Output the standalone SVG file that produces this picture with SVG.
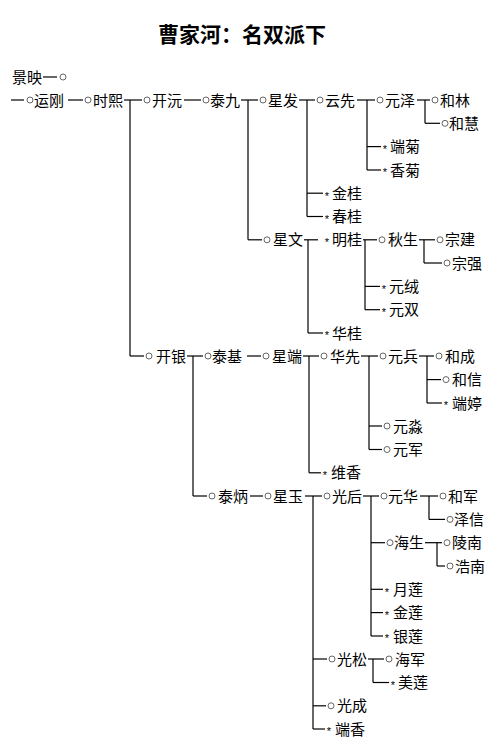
<svg xmlns="http://www.w3.org/2000/svg" width="496" height="751" viewBox="0 0 496 751">
<style>
.t{font-family:"Noto Sans CJK SC","Noto Sans",sans-serif;font-size:15px;fill:#000}
.h{font-family:"Noto Sans CJK SC",sans-serif;font-size:21px;font-weight:bold;fill:#000}
.s{font-family:"Liberation Sans",sans-serif;font-size:11px;fill:#000;text-anchor:middle}
.c{fill:#fff;stroke:#666;stroke-width:1}
.ln line{stroke:#000;stroke-width:1.2}
</style>
<rect width="496" height="751" fill="#fff"/>
<text class="h" x="242" y="42" text-anchor="middle">曹家河：名双派下</text>

<g class="ln" id="connectors">
<line x1="43" y1="77" x2="57" y2="77"/>
<line x1="11" y1="100" x2="24" y2="100"/>
<line x1="68" y1="100" x2="83" y2="100"/>
<line x1="124" y1="100" x2="142" y2="100"/>
<line x1="184" y1="100" x2="201" y2="100"/>
<line x1="241" y1="100" x2="258" y2="100"/>
<line x1="299" y1="100" x2="315" y2="100"/>
<line x1="357" y1="100" x2="375" y2="100"/>
<line x1="417" y1="100" x2="430" y2="100"/>
<line x1="130" y1="100" x2="130" y2="356"/>
<line x1="248" y1="100" x2="248" y2="239.8"/>
<line x1="307" y1="100" x2="307" y2="216.5"/>
<line x1="367" y1="100" x2="367" y2="170"/>
<line x1="425" y1="100" x2="425" y2="123.3"/>
<line x1="425" y1="123.3" x2="440" y2="123.3"/>
<line x1="367" y1="146.6" x2="381" y2="146.6"/>
<line x1="367" y1="170" x2="381" y2="170"/>
<line x1="307" y1="193.2" x2="323" y2="193.2"/>
<line x1="307" y1="216.5" x2="323" y2="216.5"/>
<line x1="248" y1="239.8" x2="262" y2="239.8"/>
<line x1="304" y1="239.8" x2="318" y2="239.8"/>
<line x1="308" y1="239.8" x2="308" y2="333"/>
<line x1="363" y1="239.8" x2="377" y2="239.8"/>
<line x1="365" y1="239.8" x2="365" y2="309.7"/>
<line x1="419" y1="239.8" x2="435" y2="239.8"/>
<line x1="424" y1="239.8" x2="424" y2="263"/>
<line x1="424" y1="263" x2="442" y2="263"/>
<line x1="365" y1="286.4" x2="380" y2="286.4"/>
<line x1="365" y1="309.7" x2="380" y2="309.7"/>
<line x1="308" y1="333" x2="323" y2="333"/>
<line x1="130" y1="356" x2="144" y2="356"/>
<line x1="187" y1="356" x2="203" y2="356"/>
<line x1="193" y1="356" x2="193" y2="496"/>
<line x1="247" y1="356" x2="261" y2="356"/>
<line x1="303" y1="356" x2="319" y2="356"/>
<line x1="309" y1="356" x2="309" y2="472.8"/>
<line x1="361" y1="356" x2="378" y2="356"/>
<line x1="369" y1="356" x2="369" y2="449.5"/>
<line x1="419" y1="356" x2="434" y2="356"/>
<line x1="427" y1="356" x2="427" y2="403"/>
<line x1="427" y1="379.6" x2="441" y2="379.6"/>
<line x1="427" y1="403" x2="442" y2="403"/>
<line x1="369" y1="426" x2="382" y2="426"/>
<line x1="369" y1="449.5" x2="382" y2="449.5"/>
<line x1="309" y1="472.8" x2="321" y2="472.8"/>
<line x1="193" y1="496" x2="207" y2="496"/>
<line x1="250" y1="496" x2="263" y2="496"/>
<line x1="305" y1="496" x2="322" y2="496"/>
<line x1="313" y1="496" x2="313" y2="729"/>
<line x1="363" y1="496" x2="379" y2="496"/>
<line x1="371" y1="496" x2="371" y2="636"/>
<line x1="420" y1="496" x2="438" y2="496"/>
<line x1="429" y1="496" x2="429" y2="519.4"/>
<line x1="429" y1="519.4" x2="445" y2="519.4"/>
<line x1="371" y1="542.7" x2="385" y2="542.7"/>
<line x1="425" y1="542.7" x2="442" y2="542.7"/>
<line x1="437" y1="542.7" x2="437" y2="566"/>
<line x1="437" y1="566" x2="445" y2="566"/>
<line x1="371" y1="589.3" x2="383" y2="589.3"/>
<line x1="371" y1="612.6" x2="383" y2="612.6"/>
<line x1="371" y1="636" x2="383" y2="636"/>
<line x1="313" y1="659" x2="327" y2="659"/>
<line x1="368" y1="659" x2="384" y2="659"/>
<line x1="373" y1="659" x2="373" y2="682.5"/>
<line x1="373" y1="682.5" x2="389" y2="682.5"/>
<line x1="313" y1="705.8" x2="326" y2="705.8"/>
<line x1="313" y1="729" x2="325" y2="729"/>
</g>

<g id="n-jingying"><text class="t" x="12" y="82.5">景映</text></g>
<g id="n-placeholder"><circle class="c" cx="63" cy="77" r="3"/></g>
<g id="n-yungang"><circle class="c" cx="30" cy="100" r="3"/><text class="t" x="34" y="105.5">运刚</text></g>
<g id="n-shixi"><circle class="c" cx="88" cy="100" r="3"/><text class="t" x="93" y="105.5">时熙</text></g>
<g id="n-kaiyuan"><circle class="c" cx="147" cy="100" r="3"/><text class="t" x="152" y="105.5">开沅</text></g>
<g id="n-taijiu"><circle class="c" cx="206" cy="100" r="3"/><text class="t" x="210" y="105.5">泰九</text></g>
<g id="n-xingfa"><circle class="c" cx="263" cy="100" r="3"/><text class="t" x="268" y="105.5">星发</text></g>
<g id="n-yunxian"><circle class="c" cx="320" cy="100" r="3"/><text class="t" x="325" y="105.5">云先</text></g>
<g id="n-yuanze"><circle class="c" cx="380" cy="100" r="3"/><text class="t" x="385" y="105.5">元泽</text></g>
<g id="n-helin"><circle class="c" cx="435" cy="100" r="3"/><text class="t" x="440" y="105.5">和林</text></g>
<g id="n-hehui"><circle class="c" cx="445" cy="123.3" r="3"/><text class="t" x="449" y="128.8">和慧</text></g>
<g id="n-duanju"><text class="s" x="385" y="153">*</text><text class="t" x="390" y="152.1">端菊</text></g>
<g id="n-xiangju"><text class="s" x="385" y="176.4">*</text><text class="t" x="390" y="175.5">香菊</text></g>
<g id="n-jingui"><text class="s" x="327" y="199.6">*</text><text class="t" x="332" y="198.7">金桂</text></g>
<g id="n-chungui"><text class="s" x="327" y="222.9">*</text><text class="t" x="332" y="222">春桂</text></g>
<g id="n-xingwen"><circle class="c" cx="267" cy="239.8" r="3"/><text class="t" x="273" y="245.3">星文</text></g>
<g id="n-minggui"><text class="s" x="327" y="246.2">*</text><text class="t" x="332" y="245.3">明桂</text></g>
<g id="n-qiusheng"><circle class="c" cx="382" cy="239.8" r="3"/><text class="t" x="388" y="245.3">秋生</text></g>
<g id="n-zongjian"><circle class="c" cx="440" cy="239.8" r="3"/><text class="t" x="445" y="245.3">宗建</text></g>
<g id="n-zongqiang"><circle class="c" cx="447" cy="263" r="3"/><text class="t" x="452" y="268.5">宗强</text></g>
<g id="n-yuanrong"><text class="s" x="384" y="292.8">*</text><text class="t" x="389" y="291.9">元绒</text></g>
<g id="n-yuanshuang"><text class="s" x="384" y="316.1">*</text><text class="t" x="389" y="315.2">元双</text></g>
<g id="n-huagui"><text class="s" x="327" y="339.4">*</text><text class="t" x="332" y="338.5">华桂</text></g>
<g id="n-kaiyin"><circle class="c" cx="149" cy="356" r="3"/><text class="t" x="156" y="361.5">开银</text></g>
<g id="n-taiji"><circle class="c" cx="208" cy="356" r="3"/><text class="t" x="212" y="361.5">泰基</text></g>
<g id="n-xingduan"><circle class="c" cx="266" cy="356" r="3"/><text class="t" x="272" y="361.5">星端</text></g>
<g id="n-huaxian"><circle class="c" cx="324" cy="356" r="3"/><text class="t" x="330" y="361.5">华先</text></g>
<g id="n-yuanbing"><circle class="c" cx="383" cy="356" r="3"/><text class="t" x="388" y="361.5">元兵</text></g>
<g id="n-hecheng"><circle class="c" cx="439" cy="356" r="3"/><text class="t" x="445" y="361.5">和成</text></g>
<g id="n-hexin"><circle class="c" cx="446" cy="379.6" r="3"/><text class="t" x="452" y="385.1">和信</text></g>
<g id="n-duanting"><text class="s" x="446" y="409.4">*</text><text class="t" x="452" y="408.5">端婷</text></g>
<g id="n-yuanmiao"><circle class="c" cx="387" cy="426" r="3"/><text class="t" x="393" y="431.5">元淼</text></g>
<g id="n-yuanjun"><circle class="c" cx="387" cy="449.5" r="3"/><text class="t" x="393" y="455">元军</text></g>
<g id="n-weixiang"><text class="s" x="325" y="479.2">*</text><text class="t" x="331" y="478.3">维香</text></g>
<g id="n-taibing"><circle class="c" cx="212" cy="496" r="3"/><text class="t" x="218" y="501.5">泰炳</text></g>
<g id="n-xingyu"><circle class="c" cx="268" cy="496" r="3"/><text class="t" x="273" y="501.5">星玉</text></g>
<g id="n-guanghou"><circle class="c" cx="327" cy="496" r="3"/><text class="t" x="332" y="501.5">光后</text></g>
<g id="n-yuanhua"><circle class="c" cx="384" cy="496" r="3"/><text class="t" x="388" y="501.5">元华</text></g>
<g id="n-hejun"><circle class="c" cx="443" cy="496" r="3"/><text class="t" x="448" y="501.5">和军</text></g>
<g id="n-zexin"><circle class="c" cx="450" cy="519.4" r="3"/><text class="t" x="454" y="524.9">泽信</text></g>
<g id="n-haisheng"><circle class="c" cx="390" cy="542.7" r="3"/><text class="t" x="394" y="548.2">海生</text></g>
<g id="n-lingnan"><circle class="c" cx="447" cy="542.7" r="3"/><text class="t" x="452" y="548.2">陵南</text></g>
<g id="n-haonan"><circle class="c" cx="450" cy="566" r="3"/><text class="t" x="455" y="571.5">浩南</text></g>
<g id="n-yuelian"><text class="s" x="387" y="595.7">*</text><text class="t" x="393" y="594.8">月莲</text></g>
<g id="n-jinlian"><text class="s" x="387" y="619">*</text><text class="t" x="393" y="618.1">金莲</text></g>
<g id="n-yinlian"><text class="s" x="387" y="642.4">*</text><text class="t" x="393" y="641.5">银莲</text></g>
<g id="n-guangsong"><circle class="c" cx="332" cy="659" r="3"/><text class="t" x="337" y="664.5">光松</text></g>
<g id="n-haijun"><circle class="c" cx="389" cy="659" r="3"/><text class="t" x="395" y="664.5">海军</text></g>
<g id="n-meilian"><text class="s" x="393" y="688.9">*</text><text class="t" x="398" y="688">美莲</text></g>
<g id="n-guangcheng"><circle class="c" cx="331" cy="705.8" r="3"/><text class="t" x="337" y="711.3">光成</text></g>
<g id="n-duanxiang"><text class="s" x="329" y="735.4">*</text><text class="t" x="335" y="734.5">端香</text></g>
</svg>
